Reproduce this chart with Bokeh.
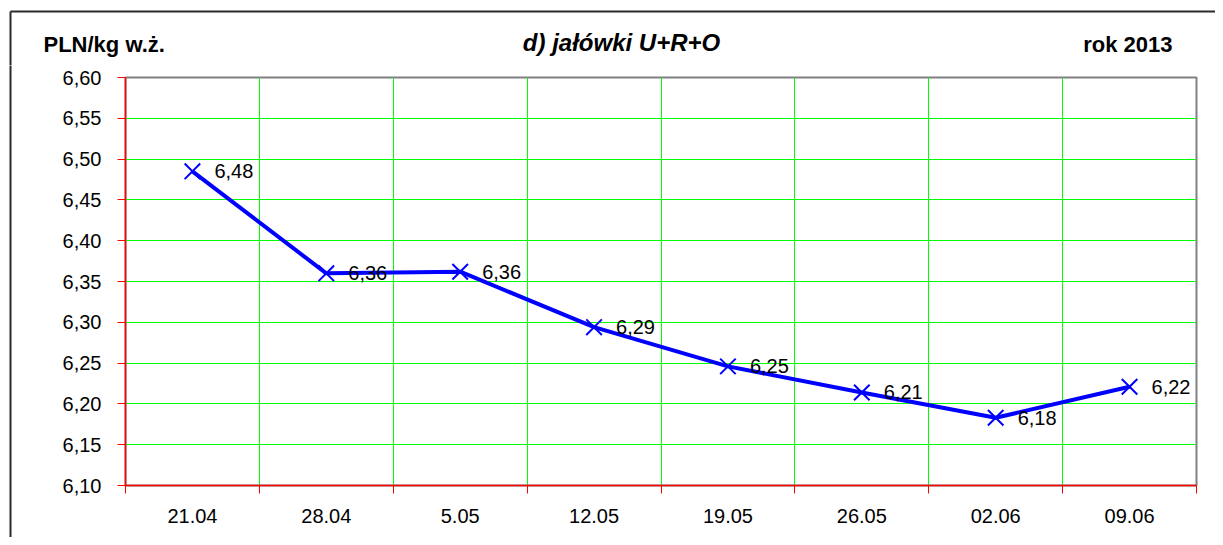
from bokeh.plotting import figure
from bokeh.layouts import column, row
from bokeh.models import ColumnDataSource, FixedTicker, LabelSet, Range1d
from bokeh.core.properties import value
from bokeh.embed import file_html
from bokeh.resources import INLINE

# ---- data ----
dates = ["21.04", "28.04", "5.05", "12.05", "19.05", "26.05", "02.06", "09.06"]
prices = [6.485, 6.360, 6.362, 6.294, 6.246, 6.214, 6.183, 6.221]
price_labels = ["6,48", "6,36", "6,36", "6,29", "6,25", "6,21", "6,18", "6,22"]
y_ticks = [6.10, 6.15, 6.20, 6.25, 6.30, 6.35, 6.40, 6.45, 6.50, 6.55, 6.60]
y_tick_labels = ["6,10", "6,15", "6,20", "6,25", "6,30", "6,35", "6,40", "6,45",
                 "6,50", "6,55", "6,60"]
title_text = "d) jałówki U+R+O"
unit_text = "PLN/kg w.ż."
year_text = "rok 2013"

FONT = "Liberation Sans"
BORDER = "#2a2a2a"
TOTAL_W, TOTAL_H = 1215, 537
HEAD_H = 65          # header strip height
STRIP_W = 12         # left strip carrying the outer frame line
n = len(dates)
xs = list(range(1, n + 1))
bounds = [i + 0.5 for i in range(0, n + 1)]


def bare_figure(w, h, xr, yr):
    f = figure(width=w, height=h, output_backend="svg", toolbar_location=None,
               x_range=xr, y_range=yr, x_axis_type=None, y_axis_type=None,
               min_border=0)
    f.min_border_left = f.min_border_right = 0
    f.min_border_top = f.min_border_bottom = 0
    f.frame_align = False
    f.outline_line_color = None
    f.grid.visible = False
    f.background_fill_color = "white"
    f.border_fill_color = "white"
    return f


# ---- header: texts + top/left part of the outer frame ----
head = bare_figure(TOTAL_W, HEAD_H, Range1d(0, TOTAL_W), Range1d(HEAD_H, 0))
head.segment(x0=[10, 10], y0=[11, 11], x1=[TOTAL_W + 5, 10], y1=[11, HEAD_H + 2],
             line_color=BORDER, line_width=2)
head.text(x=[43], y=[44], text=[unit_text], text_align="left",
          text_baseline="middle", text_font=value(FONT), text_font_size="22px",
          text_font_style="bold", text_color="black")
head.text(x=[621], y=[42], text=[title_text], text_align="center",
          text_baseline="middle", text_font=value(FONT), text_font_size="24px",
          text_font_style="bold italic", text_color="black")
head.text(x=[1172], y=[44], text=[year_text], text_align="right",
          text_baseline="middle", text_font=value(FONT), text_font_size="22px",
          text_font_style="bold", text_color="black")

# ---- left strip: continuation of the outer frame's left edge ----
MAIN_H = TOTAL_H - HEAD_H
strip = bare_figure(STRIP_W, MAIN_H, Range1d(0, STRIP_W), Range1d(MAIN_H, 0))
strip.segment(x0=[10], y0=[-2], x1=[10], y1=[MAIN_H + 2], line_color=BORDER,
              line_width=2)

# ---- main chart ----
MAIN_W = TOTAL_W - STRIP_W
p = figure(width=MAIN_W, height=MAIN_H, output_backend="svg", toolbar_location=None,
           x_range=Range1d(0.5, n + 0.5), y_range=Range1d(y_ticks[0], y_ticks[-1]),
           min_border_left=125 - STRIP_W, min_border_right=MAIN_W - (1196 - STRIP_W),
           min_border_top=77 - HEAD_H, min_border_bottom=MAIN_H - (485 - HEAD_H))
p.frame_align = False
p.background_fill_color = "white"
p.border_fill_color = "white"
p.outline_line_color = "#808080"
p.outline_line_width = 2

xa = p.xaxis[0]
xa.ticker = FixedTicker(ticks=xs, minor_ticks=bounds)
xa.major_label_overrides = {x: d for x, d in zip(xs, dates)}
xa.major_tick_line_color = None
xa.major_tick_out = 0
xa.major_tick_in = 0
xa.minor_tick_line_color = "#ff0000"
xa.minor_tick_out = 8
xa.minor_tick_in = 0
xa.axis_line_color = "#ff0000"
xa.axis_line_width = 1.5
xa.major_label_standoff = 15
xa.major_label_text_font = FONT
xa.major_label_text_font_size = "20px"
xa.major_label_text_color = "black"

ya = p.yaxis[0]
ya.ticker = FixedTicker(ticks=y_ticks)
ya.major_label_overrides = {t: l for t, l in zip(y_ticks, y_tick_labels)}
ya.major_tick_line_color = "#ff0000"
ya.major_tick_out = 8
ya.major_tick_in = 0
ya.minor_tick_line_color = None
ya.axis_line_color = "#ff0000"
ya.axis_line_width = 1.5
ya.major_label_standoff = 16
ya.major_label_text_font = FONT
ya.major_label_text_font_size = "20px"
ya.major_label_text_color = "black"

p.xgrid.ticker = FixedTicker(ticks=bounds[1:-1])
p.xgrid.grid_line_color = "#00ff00"
p.xgrid.grid_line_width = 1
p.ygrid.ticker = FixedTicker(ticks=y_ticks[1:-1])
p.ygrid.grid_line_color = "#00ff00"
p.ygrid.grid_line_width = 1

src = ColumnDataSource(dict(x=xs, y=prices, label=price_labels))
p.line("x", "y", source=src, line_color="#0000ff", line_width=4)
p.scatter("x", "y", source=src, marker="x", size=22, line_color="#0000ff",
          line_width=2)
p.add_layout(LabelSet(x="x", y="y", text="label", source=src, x_offset=22,
                      y_offset=0, text_baseline="middle", text_align="left",
                      text_font=value(FONT), text_font_size="20px",
                      text_color="black"))

layout = column(head, row(strip, p, spacing=0), spacing=0)
open("out.html", "w").write(file_html(layout, INLINE))
